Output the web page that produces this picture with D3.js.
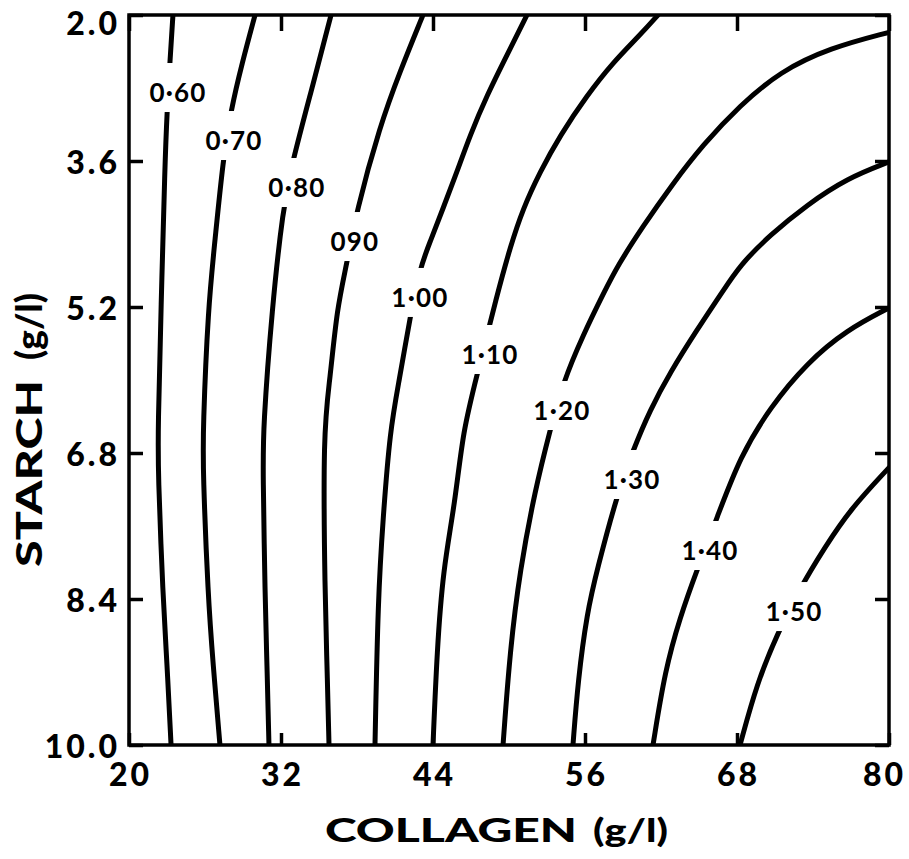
<!DOCTYPE html>
<html>
<head>
<meta charset="utf-8">
<script src="https://cdn.jsdelivr.net/npm/d3@7"></script>
<style>
  html, body { margin: 0; padding: 0; background: #fff; }
  svg { display: block; }
</style>
</head>
<body>
<svg id="chart" width="909" height="859"></svg>
<script>
// Axis ticks
const collagenTicks = [20, 32, 44, 56, 68, 80];
const starchTicks = [2.0, 3.6, 5.2, 6.8, 8.4, 10.0];

// Contour levels and their printed labels
const levels = [0.60, 0.70, 0.80, 0.90, 1.00, 1.10, 1.20, 1.30, 1.40, 1.50];
const levelLabels = ["0·60", "0·70", "0·80", "090", "1·00", "1·10", "1·20", "1·30", "1·40", "1·50"];

// Contour traces: [collagen g/l, starch g/l]
const contour060 = [[23.47,2.0],[23.24,2.49],[23.0,3.07],[22.84,3.62],[22.53,5.21],[22.29,6.55],[22.29,6.99],[22.68,8.38],[23.0,9.1],[23.32,10.0]];
const contour070 = [[29.95,2.0],[28.92,2.53],[28.05,3.04],[27.42,3.59],[26.79,4.47],[26.24,5.21],[25.84,6.55],[25.84,6.99],[26.24,8.38],[26.63,9.1],[27.18,10.0]];
const contour080 = [[35.95,2.0],[34.55,2.75],[32.87,3.62],[32.16,4.12],[31.29,5.21],[30.58,6.55],[30.58,6.99],[30.74,8.38],[30.89,9.1],[31.05,10.0]];
const contour090 = [[43.21,2.0],[41.39,2.62],[39.82,3.21],[37.92,4.17],[37.21,4.72],[36.42,5.21],[35.87,6.0],[35.32,6.55],[35.47,8.38],[35.63,9.1],[35.79,10.0]];
const contour100 = [[51.42,2.0],[49.84,2.44],[48.26,2.88],[46.92,3.32],[45.89,3.72],[44.79,4.12],[43.76,4.49],[42.97,4.77],[42.18,5.32],[41.34,6.0],[40.6,6.55],[40.05,7.53],[39.66,8.38],[39.42,10.0]];
const contour110 = [[61.76,2.0],[60.34,2.22],[58.21,2.52],[56.16,2.88],[54.03,3.32],[52.45,3.72],[51.11,4.12],[50.08,4.55],[49.05,5.07],[47.47,5.95],[46.37,6.55],[45.74,7.35],[44.79,8.08],[44.32,8.96],[44.0,10.0]];
const contour120 = [[80.0,2.19],[75.34,2.36],[71.39,2.62],[68.24,2.99],[65.32,3.42],[62.87,3.86],[60.50,4.33],[58.61,4.74],[57.50,5.04],[55.84,5.51],[54.26,6.03],[53.24,6.55],[52.05,7.21],[50.87,8.08],[50.08,8.96],[49.53,10.0]];
const contour130 = [[80.0,3.61],[76.68,3.79],[73.53,4.08],[70.61,4.41],[68.24,4.74],[66.82,5.04],[64.84,5.45],[62.71,5.92],[61.13,6.33],[59.79,6.77],[58.53,7.26],[56.95,8.08],[56.16,8.55],[55.45,9.29],[55.05,10.0]];
const contour140 = [[80.0,5.21],[76.68,5.45],[73.53,5.81],[70.61,6.30],[68.24,6.84],[66.42,7.51],[64.84,8.08],[63.5,8.6],[62.32,9.18],[61.37,10.0]];
const contour150 = [[80.0,6.96],[76.92,7.42],[74.95,7.83],[72.97,8.28],[71.16,8.79],[69.58,9.32],[68.24,10.0]];
const contours = [contour060, contour070, contour080, contour090, contour100,
                  contour110, contour120, contour130, contour140, contour150];

// Where each level label sits along its contour
const labelCollagen = [23.87, 28.29, 33.26, 37.84, 42.97, 48.50, 54.18, 59.71, 65.87, 72.50];
const labelStarch   = [2.844, 3.370, 3.885, 4.477, 5.090, 5.715, 6.329, 7.085, 7.863, 8.532];

const svg = d3.select("#chart");
const W = 909, H = 859;
const plotL = 129, plotR = 889, plotT = 15, plotB = 745;

const x = d3.scaleLinear().domain([20, 80]).range([plotL, plotR]);
const y = d3.scaleLinear().domain([2, 10]).range([plotT, plotB]);

const fontFamily = "Lato, 'DejaVu Sans', sans-serif";

svg.append("defs").append("clipPath").attr("id", "plotClip")
  .append("rect").attr("x", plotL).attr("y", plotT)
  .attr("width", plotR - plotL).attr("height", plotB - plotT);

// Contour lines
const lineGen = d3.line()
  .x(d => x(d[0])).y(d => y(d[1]))
  .curve(d3.curveBasis);

const contourG = svg.append("g").attr("clip-path", "url(#plotClip)");
contourG.selectAll("path.contour")
  .data(contours)
  .join("path")
  .attr("class", "contour")
  .attr("d", lineGen)
  .attr("fill", "none")
  .attr("stroke", "#000")
  .attr("stroke-width", 5)
  .attr("stroke-linecap", "round");

// Level labels, each breaking its line
const labelG = svg.append("g");
const labels = labelG.selectAll("g.lbl")
  .data(levels.map((v, i) => ({ v, text: levelLabels[i], cx: labelCollagen[i], cy: labelStarch[i] })))
  .join("g").attr("class", "lbl")
  .attr("transform", d => `translate(${x(d.cx)},${y(d.cy)})`);

labels.append("text")
  .attr("text-anchor", "middle")
  .attr("dominant-baseline", "central")
  .attr("font-family", fontFamily)
  .attr("font-weight", 700)
  .attr("font-size", 26)
  .attr("letter-spacing", 1.2)
  .attr("fill", "#000")
  .text(d => d.text);

labels.each(function() {
  const g = d3.select(this);
  const bb = g.select("text").node().getBBox();
  g.insert("rect", "text")
    .attr("x", bb.x - 5).attr("width", bb.width + 10)
    .attr("y", -29).attr("height", 49)
    .attr("fill", "#fff");
});

// Frame
svg.append("rect")
  .attr("x", plotL).attr("y", plotT)
  .attr("width", plotR - plotL).attr("height", plotB - plotT)
  .attr("fill", "none").attr("stroke", "#000").attr("stroke-width", 3.5);

// Inward tick marks on all four sides
const tickLen = 14;
function styleAxis(g) {
  g.select(".domain").remove();
  g.selectAll(".tick line").attr("stroke", "#000").attr("stroke-width", 3.5);
}
svg.append("g").attr("transform", `translate(0,${plotB})`)
  .call(d3.axisBottom(x).tickValues(collagenTicks).tickSize(-tickLen + 2).tickFormat(""))
  .call(styleAxis);
svg.append("g").attr("transform", `translate(0,${plotT})`)
  .call(d3.axisTop(x).tickValues(collagenTicks).tickSize(-tickLen - 2).tickFormat(""))
  .call(styleAxis);
svg.append("g").attr("transform", `translate(${plotL},0)`)
  .call(d3.axisLeft(y).tickValues(starchTicks).tickSize(-tickLen).tickFormat(""))
  .call(styleAxis);
svg.append("g").attr("transform", `translate(${plotR},0)`)
  .call(d3.axisRight(y).tickValues(starchTicks).tickSize(-tickLen).tickFormat(""))
  .call(styleAxis);

// Tick labels
const fmt = d3.format(".1f");
const tickSpacing = 3;
svg.append("g").selectAll("text")
  .data(starchTicks)
  .join("text")
  .attr("x", plotL - 12 + tickSpacing)
  .attr("y", d => Math.max(y(d), plotT + 7))
  .attr("text-anchor", "end")
  .attr("dominant-baseline", "central")
  .attr("font-family", fontFamily)
  .attr("font-weight", 900)
  .attr("font-size", 32)
  .attr("letter-spacing", tickSpacing)
  .attr("fill", "#000")
  .text(d => fmt(d));

const xLabels = svg.append("g").selectAll("text")
  .data(collagenTicks)
  .join("text")
  .attr("x", d => x(d) + tickSpacing / 2)
  .attr("y", plotB + 28)
  .attr("text-anchor", "middle")
  .attr("dominant-baseline", "central")
  .attr("font-family", fontFamily)
  .attr("font-weight", 900)
  .attr("font-size", 32)
  .attr("letter-spacing", tickSpacing)
  .attr("fill", "#000")
  .text(d => d);
// keep the last label inside the page
xLabels.each(function() {
  const bb = this.getBBox();
  if (bb.x + bb.width > W - 3) {
    d3.select(this).attr("x", +d3.select(this).attr("x") - (bb.x + bb.width - (W - 3)));
  }
});

// Axis titles (wide lettering: each word stretched to its printed width)
const xTitle = svg.append("text")
  .attr("y", 842)
  .attr("font-family", fontFamily)
  .attr("font-weight", 900)
  .attr("font-size", 33)
  .attr("fill", "#000");
xTitle.append("tspan").attr("x", 325)
  .attr("textLength", 252).attr("lengthAdjust", "spacingAndGlyphs")
  .text("COLLAGEN");
xTitle.append("tspan").attr("x", 593)
  .attr("textLength", 75).attr("lengthAdjust", "spacingAndGlyphs")
  .text("(g/l)");

const yTitle = svg.append("text")
  .attr("transform", "translate(42,0) rotate(-90)")
  .attr("y", 0)
  .attr("font-family", fontFamily)
  .attr("font-weight", 900)
  .attr("font-size", 36)
  .attr("fill", "#000");
yTitle.append("tspan").attr("x", -567)
  .attr("textLength", 187).attr("lengthAdjust", "spacingAndGlyphs")
  .text("STARCH");
yTitle.append("tspan").attr("x", -360)
  .attr("textLength", 67).attr("lengthAdjust", "spacingAndGlyphs")
  .text("(g/l)");
</script>
</body>
</html>
